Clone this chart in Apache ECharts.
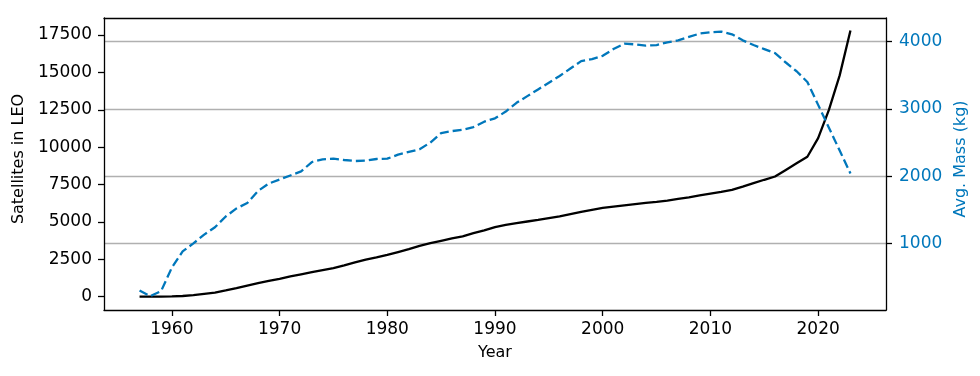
<!DOCTYPE html>
<html>
<head>
<meta charset="utf-8">
<script src="https://cdn.jsdelivr.net/npm/echarts@6/dist/echarts.min.js"></script>
<style>
html,body{margin:0;padding:0;background:#fff;}
#chart{width:980px;height:376px;}
</style>
</head>
<body>
<div id="chart"></div>
<script>
var years = [];
for (var y = 1957; y <= 2023; y++) years.push(y);

var satellites = [2, 5, 10, 20, 50, 110, 190, 270, 420, 580,
  750, 910, 1060, 1200, 1360, 1500, 1640, 1780, 1920, 2100,
  2300, 2480, 2630, 2800, 2990, 3180, 3400, 3580, 3740, 3900,
  4040, 4250, 4440, 4660, 4800, 4920, 5030, 5140, 5260, 5380,
  5530, 5680, 5810, 5940, 6030, 6110, 6190, 6270, 6340, 6430,
  6540, 6650, 6770, 6890, 7010, 7140, 7360, 7590, 7820, 8040,
  8480, 8920, 9360, 10600, 12500, 14800, 17800];

var avgMass = [300, 215, 290, 640, 880, 1000, 1130, 1240, 1400, 1520,
  1600, 1780, 1890, 1950, 2010, 2070, 2210, 2250, 2260, 2240,
  2225, 2230, 2255, 2260, 2320, 2360, 2400, 2500, 2640, 2670,
  2690, 2730, 2810, 2860, 2960, 3090, 3190, 3290, 3390, 3490,
  3600, 3710, 3740, 3790, 3890, 3970, 3960, 3940, 3950, 3990,
  4020, 4070, 4120, 4140, 4150, 4110, 4020, 3950, 3890, 3830,
  3690, 3560, 3400, 3060, 2720, 2380, 2040];

var xTicks = [1960, 1970, 1980, 1990, 2000, 2010, 2020];
var leftTicks = [0, 2500, 5000, 7500, 10000, 12500, 15000, 17500];
var rightTicks = [1000, 2000, 3000, 4000];

var BLUE = '#0077bb';
var FONT = 'DejaVu Sans';
var TICK_FS = 17;
var NAME_FS = 16;

function pairs(xs, ys) { return xs.map(function (x, i) { return [x, ys[i]]; }); }

var chart = echarts.init(document.getElementById('chart'), null, {renderer: 'canvas'});
chart.setOption({
  animation: false,
  backgroundColor: '#fff',
  grid: {left: 104, right: 94, top: 18, bottom: 66, containLabel: false},
  xAxis: [{
    type: 'value', min: 1953.7, max: 2026.3, position: 'bottom',
    axisLine: {show: true, onZero: false, lineStyle: {color: '#000', width: 1.3}},
    axisTick: {show: true, length: 6, customValues: xTicks, lineStyle: {color: '#000', width: 1.3}},
    axisLabel: {customValues: xTicks, color: '#000', fontFamily: FONT, fontSize: TICK_FS, margin: 11, formatter: function (v) { return String(v); }},
    splitLine: {show: false},
    name: 'Year', nameLocation: 'middle', nameGap: 35,
    nameTextStyle: {color: '#000', fontFamily: FONT, fontSize: NAME_FS}
  }, {
    type: 'value', min: 1953.7, max: 2026.3, position: 'top',
    axisLine: {show: true, onZero: false, lineStyle: {color: '#000', width: 1.3}},
    axisTick: {show: false}, axisLabel: {show: false}, splitLine: {show: false}
  }],
  yAxis: [{
    type: 'value', min: -887, max: 18637, position: 'left',
    axisLine: {show: true, onZero: false, lineStyle: {color: '#000', width: 1.3}},
    axisTick: {show: true, length: 6, customValues: leftTicks, lineStyle: {color: '#000', width: 1.3}},
    axisLabel: {customValues: leftTicks, color: '#000', fontFamily: FONT, fontSize: TICK_FS, margin: 12, formatter: function (v) { return String(v); }},
    splitLine: {show: false},
    name: 'Satellites in LEO', nameLocation: 'middle', nameRotate: 90, nameGap: 70,
    nameTextStyle: {color: '#000', fontFamily: FONT, fontSize: NAME_FS, padding: [0, 0, 0, 10]}
  }, {
    type: 'value', min: 9, max: 4352, position: 'right',
    axisLine: {show: true, onZero: false, lineStyle: {color: '#000', width: 1.3}},
    axisTick: {show: true, length: 6, customValues: rightTicks, lineStyle: {color: '#000', width: 1.3}},
    axisLabel: {customValues: rightTicks, color: BLUE, fontFamily: FONT, fontSize: TICK_FS, margin: 13, formatter: function (v) { return String(v); }},
    splitLine: {show: true, lineStyle: {color: '#b0b0b0', width: 1.3}},
    name: 'Avg. Mass (kg)', nameLocation: 'middle', nameRotate: 90, nameGap: 64,
    nameTextStyle: {color: BLUE, fontFamily: FONT, fontSize: NAME_FS, padding: [0, 0, 0, 10]}
  }],
  series: [{
    type: 'line', xAxisIndex: 0, yAxisIndex: 0, data: pairs(years, satellites),
    showSymbol: false, symbol: 'none', smooth: false,
    lineStyle: {color: '#000', width: 2.3}, z: 3
  }, {
    type: 'line', xAxisIndex: 0, yAxisIndex: 1, data: pairs(years, avgMass),
    showSymbol: false, symbol: 'none', smooth: false,
    lineStyle: {color: BLUE, width: 2.3, type: [9, 4]}, z: 3
  }]
});
</script>
</body>
</html>
